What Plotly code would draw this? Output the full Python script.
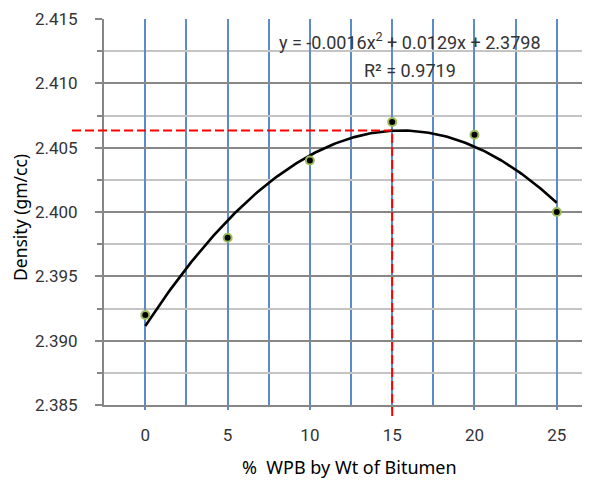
import numpy as np
import plotly.graph_objects as go

# Data
wpb = [0, 5, 10, 15, 20, 25]
density = [2.392, 2.398, 2.404, 2.407, 2.406, 2.400]
x_ticks = [0, 5, 10, 15, 20, 25]
y_ticks = [2.385, 2.390, 2.395, 2.400, 2.405, 2.410, 2.415]
eq_text = "y = -0.0016x<sup>2</sup> + 0.0129x + 2.3798"
r2_text = "R² = 0.9719"
x_title = "%  WPB by Wt of Bitumen"
y_title = "Density (gm/cc)"

# Excel-style polynomial trendline on point index (1..n)
idx = np.arange(1, len(wpb) + 1)
coef = np.polyfit(idx, density, 2)
i_fine = np.linspace(1, len(wpb), 200)
x_fine = np.interp(i_fine, idx, wpb)
y_fine = np.polyval(coef, i_fine)
i_peak = -coef[1] / (2 * coef[0])
y_peak = np.polyval(coef, i_peak)

OFF = 8  # page body margin
W, H = 590 - OFF, 484 - OFF
ml, mt, mb, mr = 104 - OFF, 19 - OFF, 79, 0
xr = [-2.51, 27.02]
yr = [2.385, 2.415]
pw = W - ml - mr
ph = H - mt - mb


def px(xs):
    return (xs - OFF - ml) / pw


def py(ys):
    return (H - mb - (ys - OFF)) / ph


fig = go.Figure()
fig.add_trace(go.Scatter(x=x_fine, y=y_fine, mode="lines",
                         line=dict(color="black", width=2.6), hoverinfo="skip"))
fig.add_trace(go.Scatter(x=wpb, y=density, mode="markers",
                         marker=dict(size=8, color="black",
                                     line=dict(color="#9BBB59", width=2))))

blue = "#5B8BCB"
tick_font = dict(family="Roboto", size=17, color="#333333")
fig.update_xaxes(range=xr, tickvals=x_ticks, showgrid=True, gridcolor=blue, gridwidth=1.5,
                 minor=dict(dtick=2.5, tick0=0, showgrid=True, gridcolor=blue, gridwidth=1.5),
                 showline=True, linecolor="#868686", linewidth=2,
                 ticks="outside", ticklen=3, tickcolor=blue, tickwidth=1.5,
                 ticklabelstandoff=11, zeroline=False, tickfont=tick_font)
fig.update_yaxes(range=yr, tickvals=y_ticks, tickformat=".3f", showgrid=True,
                 gridcolor="#878787", gridwidth=1.5,
                 minor=dict(dtick=0.0025, tick0=2.385, showgrid=True, gridcolor="#C4C4C4",
                            gridwidth=1.5, ticks="outside", ticklen=5, tickcolor="#868686"),
                 showline=True, linecolor="#868686", linewidth=2,
                 ticks="outside", ticklen=7, tickcolor="#868686", tickwidth=1.5,
                 ticklabelstandoff=14, zeroline=False, tickfont=tick_font)

# red dashed guide lines
red_line = dict(color="red", width=2, dash="9px,4px")
fig.add_shape(type="line", xref="paper", yref="y",
              x0=px(72), x1=(15 - xr[0]) / (xr[1] - xr[0]),
              y0=y_peak, y1=y_peak, line=red_line)
fig.add_shape(type="line", xref="x", yref="paper",
              x0=15, x1=15, y0=py(416),
              y1=(y_peak - yr[0]) / (yr[1] - yr[0]), line=red_line)

eq_font = dict(family="Roboto", size=18, color="#333333")
fig.add_annotation(text=eq_text, x=px(410), y=py(41), xref="paper", yref="paper",
                   showarrow=False, xanchor="center", yanchor="middle", font=eq_font)
fig.add_annotation(text=r2_text, x=px(410), y=py(70), xref="paper", yref="paper",
                   showarrow=False, xanchor="center", yanchor="middle", font=eq_font)
fig.add_annotation(text=x_title, x=px(349), y=py(467), xref="paper", yref="paper",
                   showarrow=False, xanchor="center", yanchor="middle",
                   font=dict(family="Noto Sans", size=18, color="black"))
fig.add_annotation(text=y_title, x=px(20), y=py(218), xref="paper", yref="paper",
                   showarrow=False, xanchor="center", yanchor="middle", textangle=-90,
                   font=dict(family="Noto Sans", size=17.5, color="black"))

fig.update_layout(width=W, height=H, margin=dict(l=ml, r=mr, t=mt, b=mb),
                  plot_bgcolor="white", paper_bgcolor="white", showlegend=False)

fig.write_html("out.html")
